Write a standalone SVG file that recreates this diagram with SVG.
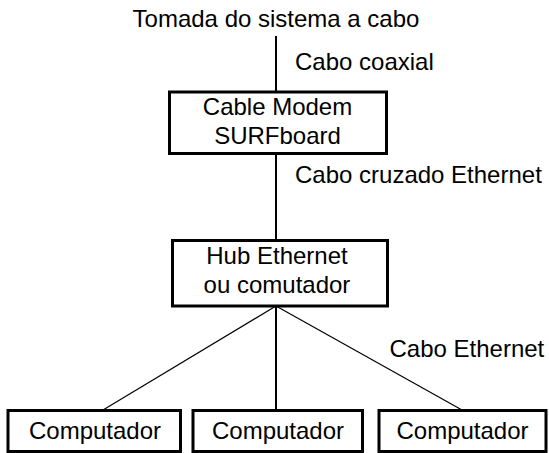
<svg xmlns="http://www.w3.org/2000/svg" width="549" height="453" viewBox="0 0 549 453">
<style>
  .box { fill: #ffffff; stroke: #000000; stroke-width: 3; }
  .lbl { font-family: "Liberation Sans", Arial, sans-serif; font-size: 24px; fill: #000000; }
  .mid { text-anchor: middle; }
  .wire { stroke: #000000; stroke-width: 2; fill: none; }
  .thin { stroke: #000000; stroke-width: 1.2; fill: none; }
</style>
<rect width="549" height="453" fill="#ffffff"/>
<g id="connectors">
  <line class="wire" x1="276" y1="36" x2="276" y2="92"/>
  <line class="wire" x1="276" y1="153" x2="276" y2="240"/>
  <line class="wire" x1="276" y1="306" x2="276" y2="410"/>
  <line class="thin" x1="276" y1="306" x2="103" y2="410"/>
  <line class="thin" x1="276" y1="306" x2="462" y2="410"/>
</g>
<g id="labels">
  <text class="lbl mid" x="276" y="27">Tomada do sistema a cabo</text>
  <text class="lbl" x="295" y="70">Cabo coaxial</text>
  <text class="lbl" x="295" y="183">Cabo cruzado Ethernet</text>
  <text class="lbl" x="389.5" y="357">Cabo Ethernet</text>
</g>
<g id="modem">
  <rect class="box" x="169.5" y="92" width="217" height="61.5"/>
  <text class="lbl mid" x="277.5" y="114.5">Cable Modem</text>
  <text class="lbl mid" x="277.5" y="143.5">SURFboard</text>
</g>
<g id="hub">
  <rect class="box" x="172.5" y="240.5" width="215" height="65.5"/>
  <text class="lbl mid" x="277" y="263.5">Hub Ethernet</text>
  <text class="lbl mid" x="277" y="292.5">ou comutador</text>
</g>
<g id="pc1">
  <rect class="box" x="8" y="410.5" width="172.5" height="41"/>
  <text class="lbl mid" x="95" y="438.5">Computador</text>
</g>
<g id="pc2">
  <rect class="box" x="193" y="410.5" width="169.5" height="41"/>
  <text class="lbl mid" x="278" y="438.5">Computador</text>
</g>
<g id="pc3">
  <rect class="box" x="379" y="410.5" width="167" height="41"/>
  <text class="lbl mid" x="462.5" y="438.5">Computador</text>
</g>
</svg>
